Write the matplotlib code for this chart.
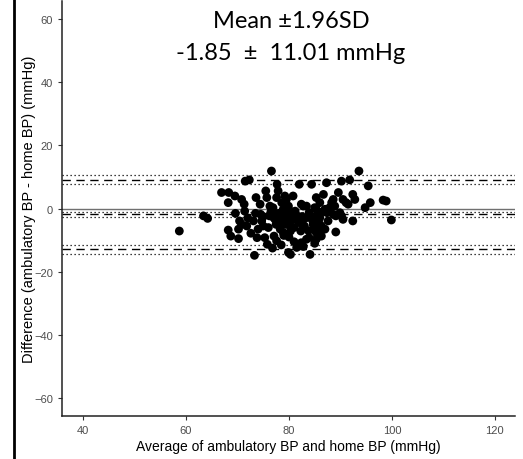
import matplotlib

matplotlib.use("Agg")
import matplotlib.pyplot as plt
from matplotlib.lines import Line2D

plt.rcParams["font.family"] = ["Liberation Sans", "DejaVu Sans"]

# Bland-Altman data: average (x) and difference (y)
avg_bp = [
    58.7, 63.4, 64.2, 66.9, 68.3, 68.2, 69.5, 69.6, 68.2, 68.7, 70.2, 70.8,
    71.3, 71.4, 70.4, 70.8, 70.2, 71.5, 72.3, 72.6, 73.1, 73.3, 73.6, 73.8,
    74.4, 74.5, 74.7, 75.0, 75.5, 75.7, 75.3, 75.8, 76.0, 76.2, 76.6, 76.3,
    76.9, 77.3, 77.1, 77.6, 77.7, 77.9, 77.6, 78.1, 78.6, 78.9, 78.6, 78.9,
    79.2, 79.5, 79.5, 79.9, 80.1, 79.9, 80.3, 80.2, 80.3, 80.8, 81.2, 81.4,
    81.5, 82.0, 82.1, 82.3, 82.4, 82.4, 82.8, 83.4, 83.4, 83.9, 84.2, 83.9,
    84.1, 84.4, 84.7, 84.9, 85.0, 85.3, 85.3, 85.3, 85.3, 86.0, 86.0, 86.3,
    86.7, 86.3, 87.3, 87.0, 87.4, 87.6, 87.9, 88.3, 88.6, 88.9, 88.6, 89.1,
    89.1, 89.6, 89.9, 90.2, 90.5, 90.2, 90.5, 91.1, 91.5, 91.8, 92.4, 92.8,
    92.4, 93.6, 94.8, 95.4, 95.8, 98.3, 98.9, 99.9,
    76.5, 77.0, 77.5, 78.0, 78.3, 79.0, 79.3, 80.5, 80.7, 81.0, 81.8, 82.5,
    83.0, 83.2, 83.8, 84.5, 85.5, 85.8, 86.5, 87.0, 75.0, 74.0, 73.5, 72.0,
    71.8, 80.0, 81.0, 82.8, 78.5, 76.8, 79.0, 85.0, 86.0,
]
diff_bp = [
    -7.1, -2.3, -3.1, 5.1, 5.1, 1.9, 4.0, -1.5, -6.8, -8.7, -9.5, 2.9,
    1.4, -0.8, -3.9, -5.0, -6.5, 8.7, 9.1, -7.8, -3.9, -14.8, 3.5, -9.2,
    1.4, -1.8, -3.9, -5.5, 5.6, 3.5, -9.2, -11.3, -6.0, -2.3, 11.9, 0.8,
    0.3, -3.4, -8.7, -10.2, 7.7, 5.6, 3.5, -4.2, 1.9, -0.2, -2.3, -7.6,
    4.0, 2.9, -1.3, 0.8, -3.4, -13.9, -14.5, -5.5, -7.1, 4.0, -0.8, -2.3,
    -12.3, 7.7, -4.5, -7.1, 1.4, -10.8, 0.8, 0.8, -9.7, -1.3, -2.3, -9.2,
    -14.5, 7.7, -5.0, -6.5, 0.3, -0.2, -7.6, -9.7, 3.5, 1.9, -2.9, -5.5,
    4.5, -8.7, 8.2, -0.2, -1.3, -3.9, 0.3, 1.9, 2.9, 0.8, -1.8, -2.3,
    -7.4, 5.1, -1.3, -2.3, -3.4, 8.7, 2.9, 1.9, 1.4, 9.1, 4.5, 2.9,
    -3.9, 11.9, 0.3, 7.2, 1.9, 2.7, 2.4, -3.6,
    -1.0, -2.8, -5.0, -1.5, -6.5, -3.0, -5.0, -1.0, -3.5, -6.0, -4.0, -2.5,
    -5.5, -3.0, -7.0, -3.5, -2.0, -4.5, -1.0, -6.5, -2.5, -6.5, -1.5, -3.0,
    -5.5, -9.0, -10.5, -12.0, -11.5, -12.5, -8.5, -11.0, -7.0,
]

mean_diff = -1.85
half_width = 11.01
mean_ci = [-1.05, -2.65]
upper_ci = [7.7, 10.6]
lower_ci = [-11.5, -14.25]

x_ticks = [40, 60, 80, 100, 120]
y_ticks = [-60, -40, -20, 0, 20, 40, 60]

fig = plt.figure(figsize=(5.23, 4.60), dpi=100)
ax = fig.add_axes([0.1185, 0.094, 0.866, 0.902])

ax.axhline(0, color="#707070", lw=1.0, zorder=1)
for level in [mean_diff, mean_diff + half_width, mean_diff - half_width]:
    ax.axhline(level, color="black", lw=1.0, linestyle=(0, (6, 4)), zorder=1)
for level in mean_ci + upper_ci + lower_ci:
    ax.axhline(level, color="black", lw=0.9, linestyle=(0, (1, 2.2)), zorder=1)

ax.scatter(avg_bp, diff_bp, s=40, color="black", edgecolors="none", zorder=3)

ax.set_xlim(35.9, 123.9)
ax.set_ylim(-65.6, 65.8)
ax.set_xticks(x_ticks)
ax.set_yticks(y_ticks)
ax.tick_params(labelsize=8, labelcolor="#4d4d4d", length=3, width=0.8, color="#333333")
for side in ["top", "right"]:
    ax.spines[side].set_visible(False)
for side in ["left", "bottom"]:
    ax.spines[side].set_linewidth(1.1)
    ax.spines[side].set_color("#222222")

ax.set_xlabel("Average of ambulatory BP and home BP (mmHg)", fontsize=10, labelpad=3)
ax.set_ylabel("Difference (ambulatory BP - home BP) (mmHg)", fontsize=10.5)
ax.yaxis.set_label_coords(-0.058, 0.5)

ax.text(80.4, 59.5, "Mean \u00b11.96SD", ha="center", va="center",
        fontsize=17, family=["Lato", "DejaVu Sans"])
ax.text(80.4, 49.3, "-1.85  \u00b1  11.01 mmHg", ha="center", va="center",
        fontsize=17, family=["Lato", "DejaVu Sans"])

# border line at the far left of the panel
fig.add_artist(Line2D([14 / 523, 14 / 523], [0, 1], color="black", lw=2,
                      transform=fig.transFigure))

fig.savefig("out.png", dpi=100)
